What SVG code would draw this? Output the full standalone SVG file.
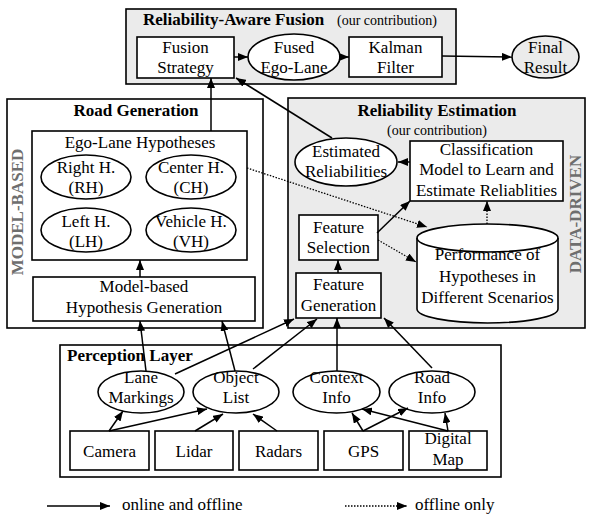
<svg xmlns="http://www.w3.org/2000/svg" width="592" height="515" viewBox="0 0 592 515" font-family="'Liberation Serif', 'DejaVu Serif', serif">
<defs>
<marker id="ah" viewBox="0 0 10 8" refX="10" refY="4" markerWidth="10" markerHeight="8" markerUnits="userSpaceOnUse" orient="auto"><path d="M0,0 L10,4 L0,8 z" fill="#000"/></marker>
</defs>
<style>
text{font-family:'Liberation Serif','DejaVu Serif',serif;font-size:17px;fill:#000}
.m{text-anchor:middle}
.b{font-weight:bold}
.s{font-size:14px}
.side{font-weight:bold;fill:#6e6e6e;text-anchor:middle}
.box{fill:#fff;stroke:#000;stroke-width:1.6}
.grp{fill:#ebebeb;stroke:#000;stroke-width:1.6}
.grpw{fill:#fff;stroke:#000;stroke-width:1.6}
.ell{fill:#fff;stroke:#000;stroke-width:1.6}
.c line{stroke:#000;stroke-width:1.5;fill:none;marker-end:url(#ah)}
.c .d{stroke-dasharray:1.5 1.5;stroke-width:1.3}
</style>
<g id="group-fusion">
<rect class="grp" x="126" y="9" width="330" height="75"/>
<text class="b" x="143" y="25">Reliability-Aware Fusion</text>
<text class="s" x="337" y="25">(our contribution)</text>
</g>
<g id="group-road">
<rect class="grpw" x="7" y="99" width="256" height="229"/>
<text class="b m" x="136" y="116">Road Generation</text>
<text class="side" transform="translate(23,212) rotate(-90)">MODEL-BASED</text>
</g>
<g id="group-reliability">
<rect class="grp" x="288" y="98" width="297" height="230"/>
<text class="b m" x="437" y="116">Reliability Estimation</text>
<text class="s m" x="437" y="135">(our contribution)</text>
<text class="side" transform="translate(581,214) rotate(-90)">DATA-DRIVEN</text>
</g>
<g id="group-perception">
<rect class="grpw" x="60" y="345" width="441" height="132"/>
<text class="b" x="67" y="361">Perception Layer</text>
</g>
<g id="fusion-strategy"><rect class="box" x="137" y="37" width="97" height="41"/><text class="m" x="185.5" y="53">Fusion</text><text class="m" x="185.5" y="73">Strategy</text></g>
<g id="fused-ego-lane"><ellipse class="ell" cx="294" cy="57" rx="46" ry="23"/><text class="m" x="294" y="53">Fused</text><text class="m" x="294" y="73">Ego-Lane</text></g>
<g id="kalman-filter"><rect class="box" x="349" y="37" width="93" height="40"/><text class="m" x="395.5" y="53">Kalman</text><text class="m" x="395.5" y="73">Filter</text></g>
<g id="final-result"><ellipse cx="545.5" cy="57" rx="33.5" ry="21" fill="#ebebeb" stroke="#000" stroke-width="1.6"/><text class="m" x="545.5" y="53">Final</text><text class="m" x="545.5" y="73">Result</text></g>
<g id="ego-lane-hypotheses"><rect class="box" x="32" y="131" width="215" height="129"/><text class="m" x="140" y="148">Ego-Lane Hypotheses</text></g>
<g id="right-h"><ellipse class="ell" cx="86" cy="177" rx="45" ry="22"/><text class="m" x="86" y="173">Right H.</text><text class="m" x="86" y="193">(RH)</text></g>
<g id="center-h"><ellipse class="ell" cx="191" cy="177" rx="45" ry="22"/><text class="m" x="191" y="173">Center H.</text><text class="m" x="191" y="193">(CH)</text></g>
<g id="left-h"><ellipse class="ell" cx="86" cy="230" rx="45" ry="22"/><text class="m" x="86" y="227">Left H.</text><text class="m" x="86" y="247">(LH)</text></g>
<g id="vehicle-h"><ellipse class="ell" cx="191" cy="230" rx="45" ry="22"/><text class="m" x="191" y="227">Vehicle H.</text><text class="m" x="191" y="247">(VH)</text></g>
<g id="model-based-generation"><rect class="box" x="33" y="277" width="222" height="44"/><text class="m" x="144" y="292">Model-based</text><text class="m" x="144" y="313">Hypothesis Generation</text></g>
<g id="estimated-reliabilities"><ellipse class="ell" cx="346" cy="162" rx="51" ry="24"/><text class="m" x="346" y="157">Estimated</text><text class="m" x="346" y="177">Reliabilities</text></g>
<g id="classification-model"><rect class="box" x="410" y="141" width="153" height="60"/><text class="m" x="486.5" y="155">Classification</text><text class="m" x="486.5" y="175">Model to Learn and</text><text class="m" x="486.5" y="196">Estimate Reliablities</text></g>
<g id="feature-selection"><rect class="box" x="299" y="215" width="79" height="45"/><text class="m" x="338.5" y="233">Feature</text><text class="m" x="338.5" y="253">Selection</text></g>
<g id="feature-generation"><rect class="box" x="296" y="273" width="85" height="45"/><text class="m" x="338.5" y="290">Feature</text><text class="m" x="338.5" y="311">Generation</text></g>
<g id="performance-db">
<path class="box" d="M417,238 A70.5,14 0 0 1 558,238 L558,309 A70.5,14 0 0 1 417,309 Z"/>
<path d="M417,238 A70.5,14 0 0 0 558,238" fill="none" stroke="#000" stroke-width="1.6"/>
<text class="m" x="487.5" y="260">Performance of</text><text class="m" x="487.5" y="282">Hypotheses in</text><text class="m" x="487.5" y="303">Different Scenarios</text>
</g>
<g id="lane-markings"><ellipse class="ell" cx="141" cy="392" rx="43" ry="21"/><text class="m" x="141" y="383">Lane</text><text class="m" x="141" y="403">Markings</text></g>
<g id="object-list"><ellipse class="ell" cx="236" cy="392" rx="43" ry="21"/><text class="m" x="236" y="383">Object</text><text class="m" x="236" y="403">List</text></g>
<g id="context-info"><ellipse class="ell" cx="336.5" cy="392" rx="43.5" ry="21"/><text class="m" x="336.5" y="383">Context</text><text class="m" x="336.5" y="403">Info</text></g>
<g id="road-info"><ellipse class="ell" cx="432" cy="392" rx="43" ry="21"/><text class="m" x="432" y="383">Road</text><text class="m" x="432" y="403">Info</text></g>
<g id="camera"><rect class="box" x="70" y="431" width="79" height="39"/><text class="m" x="109.5" y="457">Camera</text></g>
<g id="lidar"><rect class="box" x="155" y="431" width="78" height="39"/><text class="m" x="194" y="457">Lidar</text></g>
<g id="radars"><rect class="box" x="239" y="431" width="79" height="39"/><text class="m" x="278.5" y="457">Radars</text></g>
<g id="gps"><rect class="box" x="324" y="431" width="79" height="39"/><text class="m" x="363.5" y="457">GPS</text></g>
<g id="digital-map"><rect class="box" x="409" y="431" width="78" height="39"/><text class="m" x="448" y="444">Digital</text><text class="m" x="448" y="465">Map</text></g>
<g id="connectors" class="c">
<line x1="234" y1="57" x2="248" y2="57"/>
<line x1="340" y1="57" x2="349" y2="57"/>
<line x1="442" y1="56" x2="512" y2="57"/>
<line x1="211" y1="131" x2="211" y2="78"/>
<line x1="332" y1="138" x2="236" y2="78"/>
<line x1="410" y1="162" x2="398" y2="162"/>
<line x1="140" y1="277" x2="140" y2="260"/>
<line x1="338" y1="273" x2="338" y2="260"/>
<line x1="377" y1="233" x2="410" y2="201"/>
<line class="d" x1="487" y1="224" x2="487" y2="201"/>
<line class="d" x1="247" y1="168" x2="427" y2="227"/>
<line class="d" x1="378" y1="240" x2="416" y2="262"/>
<line x1="146" y1="371" x2="140" y2="321"/>
<line x1="235" y1="371" x2="222" y2="321"/>
<line x1="175" y1="374" x2="294" y2="319"/>
<line x1="253" y1="369" x2="317" y2="319"/>
<line x1="337" y1="371" x2="337" y2="318"/>
<line x1="432" y1="368" x2="384" y2="318"/>
<line x1="109" y1="431" x2="123" y2="411"/>
<line x1="109" y1="431" x2="207" y2="409"/>
<line x1="195" y1="431" x2="223" y2="414"/>
<line x1="277" y1="431" x2="253" y2="414"/>
<line x1="363" y1="431" x2="352" y2="413"/>
<line x1="363" y1="431" x2="408" y2="408"/>
<line x1="448" y1="431" x2="362" y2="409"/>
<line x1="448" y1="431" x2="445" y2="413"/>
<line x1="47" y1="506" x2="110" y2="506"/>
<line class="d" x1="345" y1="506" x2="407" y2="506"/>
</g>
<g id="legend">
<text x="122" y="510">online and offline</text>
<text x="415" y="510">offline only</text>
</g>
</svg>
